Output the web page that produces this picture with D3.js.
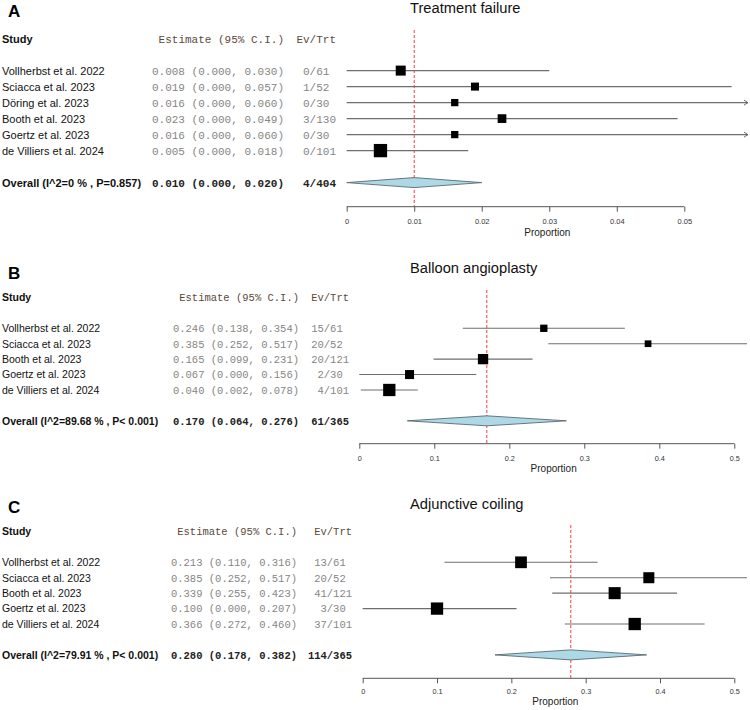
<!DOCTYPE html>
<html><head><meta charset="utf-8">
<script src="https://cdn.jsdelivr.net/npm/d3@7"></script>
<style>body{margin:0;background:#fff} svg{display:block}</style>
</head><body><svg id="c" width="750" height="710"></svg>
<script>
// ---------------- DATA ----------------
const studiesA = ["Vollherbst et al. 2022","Sciacca et al. 2023","Döring et al. 2023","Booth et al. 2023","Goertz et al. 2023","de Villiers et al. 2024"];
const estA = [0.008,0.019,0.016,0.023,0.016,0.005];
const lowA = [0.000,0.000,0.000,0.000,0.000,0.000];
const highA = [0.030,0.057,0.060,0.049,0.060,0.018];
const eventsA = [0,1,0,3,0,0];
const totalsA = [61,52,30,130,30,101];
const weightsA = [19.1,12.2,10.1,14.5,10.1,33.8];

const studiesB = ["Vollherbst et al. 2022","Sciacca et al. 2023","Booth et al. 2023","Goertz et al. 2023","de Villiers et al. 2024"];
const estB = [0.246,0.385,0.165,0.067,0.040];
const lowB = [0.138,0.252,0.099,0.000,0.002];
const highB = [0.354,0.517,0.231,0.156,0.078];
const eventsB = [15,20,20,2,4];
const totalsB = [61,52,121,30,101];
const weightsB = [12.2,10.3,24.3,18.6,34.6];

const studiesC = ["Vollherbst et al. 2022","Sciacca et al. 2023","Booth et al. 2023","Goertz et al. 2023","de Villiers et al. 2024"];
const estC = [0.213,0.385,0.339,0.100,0.366];
const lowC = [0.110,0.252,0.255,0.000,0.272];
const highC = [0.316,0.517,0.423,0.207,0.460];
const eventsC = [13,20,41,3,37];
const totalsC = [61,52,121,30,101];
const weightsC = [19.5,17.2,20.5,21.4,21.4];

const panelLetters = ["A","B","C"];
const panelTitles = ["Treatment failure","Balloon angioplasty","Adjunctive coiling"];
const overallEst = [0.010,0.170,0.280];
const overallLow = [0.000,0.064,0.178];
const overallHigh = [0.020,0.276,0.382];
const overallEvents = [4,61,114];
const overallTotals = [404,365,365];
const overallI2 = ["0","89.68","79.91"];
const overallP = ["P=0.857","P< 0.001","P< 0.001"];

const ticksA = [0,0.01,0.02,0.03,0.04,0.05];
const tickLabelsA = ["0","0.01","0.02","0.03","0.04","0.05"];
const ticksBC = [0,0.1,0.2,0.3,0.4,0.5];
const tickLabelsBC = ["0","0.1","0.2","0.3","0.4","0.5"];
const headerStudy = "Study";
const headerEstimate = "Estimate (95% C.I.)";
const headerEv = "Ev/Trt";
const axisTitle = "Proportion";

// ---------------- LAYOUT ----------------
const panels = [
  {studies:studiesA, est:estA, low:lowA, high:highA, ev:eventsA, n:totalsA, w:weightsA, ticks:ticksA, tickLabels:tickLabelsA,
   letterY:17, titleY:12.5, row0:70.6, rowStep:16, axisY:206.7, refTop:30, font:11, estRight:284, evRight:336,
   px0:346.7, pxT:684.3, tickLabelY:224, propY:236, boxMax:13.3, tickFont:7.5},
  {studies:studiesB, est:estB, low:lowB, high:highB, ev:eventsB, n:totalsB, w:weightsB, ticks:ticksBC, tickLabels:tickLabelsBC,
   letterY:279, titleY:273, row0:328.3, rowStep:15.42, axisY:443.7, refTop:290, font:10.5, estRight:299, evRight:349,
   px0:359.3, pxT:734.3, tickLabelY:460.7, propY:472, boxMax:12.3, tickFont:7.3},
  {studies:studiesC, est:estC, low:lowC, high:highC, ev:eventsC, n:totalsC, w:weightsC, ticks:ticksBC, tickLabels:tickLabelsBC,
   letterY:513, titleY:509, row0:562.3, rowStep:15.43, axisY:678.3, refTop:525, font:10.5, estRight:297, evRight:352,
   px0:362.7, pxT:734.3, tickLabelY:694.3, propY:705, boxMax:12.3, tickFont:7.3}
];

const SANS = "'Liberation Sans', Arial, sans-serif";
const MONO = "'Liberation Mono', 'Courier New', monospace";
const RIGHT_EDGE = 748;
const NB = "\u00A0";
const svg = d3.select("#c");
const f3 = d3.format(".3f");

panels.forEach((p, pi) => {
  const g = svg.append("g");
  const nS = p.studies.length;
  const tMax = p.ticks[p.ticks.length-1];
  const x = d3.scaleLinear().domain([0, tMax]).range([p.px0, p.pxT]);
  const xVisMax = x.invert(RIGHT_EDGE);
  const y = d3.scaleLinear().domain([0, 1]).range([p.row0, p.row0 + p.rowStep]);
  const yHeader = y(-2), yOverall = y(nS + 1);

  const evW = d3.max(p.ev.concat([overallEvents[pi]]), d => String(d).length);
  const nW = d3.max(p.n.concat([overallTotals[pi]]), d => String(d).length);
  const evStr = (e, n) => String(e).padStart(evW, NB) + "/" + String(n).padEnd(nW, NB);
  const estStr = (e, l, h) => f3(e) + NB + "(" + f3(l) + "," + NB + f3(h) + ")";

  // letter and title
  g.append("text").attr("x", 8).attr("y", p.letterY).text(panelLetters[pi])
    .attr("font-family", SANS).attr("font-weight", "bold").attr("font-size", 17).attr("fill", "#000");
  g.append("text").attr("x", 410).attr("y", p.titleY).text(panelTitles[pi])
    .attr("font-family", SANS).attr("font-size", 14.7).attr("fill", "#111");

  // headers
  g.append("text").attr("x", 2).attr("y", yHeader).attr("dy", "0.36em").text(headerStudy)
    .attr("font-family", SANS).attr("font-weight", "bold").attr("font-size", p.font).attr("fill", "#111");
  g.append("text").attr("x", p.estRight).attr("y", yHeader).attr("dy", "0.36em").attr("text-anchor", "end")
    .text(headerEstimate).attr("font-family", MONO).attr("font-size", p.font).attr("fill", "#5c4a3c");
  g.append("text").attr("x", p.evRight).attr("y", yHeader).attr("dy", "0.36em").attr("text-anchor", "end")
    .text(headerEv).attr("font-family", MONO).attr("font-size", p.font).attr("fill", "#5c4a3c");

  // study rows text
  p.studies.forEach((s, i) => {
    g.append("text").attr("x", 2).attr("y", y(i)).attr("dy", "0.36em").text(s)
      .attr("font-family", SANS).attr("font-size", p.font).attr("fill", "#111");
    g.append("text").attr("x", p.estRight).attr("y", y(i)).attr("dy", "0.36em").attr("text-anchor", "end")
      .text(estStr(p.est[i], p.low[i], p.high[i])).attr("font-family", MONO).attr("font-size", p.font).attr("fill", "#858585");
    g.append("text").attr("x", p.evRight).attr("y", y(i)).attr("dy", "0.36em").attr("text-anchor", "end")
      .text(evStr(p.ev[i], p.n[i])).attr("font-family", MONO).attr("font-size", p.font).attr("fill", "#858585");
  });

  // overall row text
  g.append("text").attr("x", 2).attr("y", yOverall).attr("dy", "0.36em")
    .text("Overall (I^2=" + overallI2[pi] + " % , " + overallP[pi] + ")")
    .attr("font-family", SANS).attr("font-weight", "bold").attr("font-size", p.font).attr("fill", "#111");
  g.append("text").attr("x", p.estRight).attr("y", yOverall).attr("dy", "0.36em").attr("text-anchor", "end")
    .text(estStr(overallEst[pi], overallLow[pi], overallHigh[pi]))
    .attr("font-family", MONO).attr("font-weight", "bold").attr("font-size", p.font).attr("fill", "#222");
  g.append("text").attr("x", p.evRight).attr("y", yOverall).attr("dy", "0.36em").attr("text-anchor", "end")
    .text(evStr(overallEvents[pi], overallTotals[pi]))
    .attr("font-family", MONO).attr("font-weight", "bold").attr("font-size", p.font).attr("fill", "#222");

  // CI lines
  const size = d3.scaleSqrt().domain([0, d3.max(p.w)]).range([0, p.boxMax]);
  p.studies.forEach((s, i) => {
    const lo = Math.max(p.low[i], 0);
    const over = p.high[i] > xVisMax;
    const xe = over ? x(xVisMax) : x(p.high[i]);
    g.append("line").attr("x1", x(lo)).attr("x2", xe).attr("y1", y(i)).attr("y2", y(i))
      .attr("stroke", "#6e6e6e").attr("stroke-width", 1.1);
    if (over) {
      g.append("path").attr("d", `M${xe-4},${y(i)-2.5}L${xe},${y(i)}L${xe-4},${y(i)+2.5}`)
        .attr("fill", "none").attr("stroke", "#6e6e6e").attr("stroke-width", 1);
    }
  });

  // reference line
  g.append("line").attr("x1", x(overallEst[pi])).attr("x2", x(overallEst[pi]))
    .attr("y1", p.refTop).attr("y2", p.axisY)
    .attr("stroke", "#ff3b3b").attr("stroke-width", 1).attr("stroke-dasharray", "3,2");

  // boxes
  p.studies.forEach((s, i) => {
    const sz = size(p.w[i]);
    g.append("rect").attr("x", x(p.est[i]) - sz/2).attr("y", y(i) - sz/2)
      .attr("width", sz).attr("height", sz).attr("fill", "#000");
  });

  // diamond
  const dh = 5;
  const yo = yOverall;
  g.append("path")
    .attr("d", `M${x(overallLow[pi])},${yo}L${x(overallEst[pi])},${yo-dh}L${x(overallHigh[pi])},${yo}L${x(overallEst[pi])},${yo+dh}Z`)
    .attr("fill", "#add8e6").attr("stroke", "#5a6a70").attr("stroke-width", 0.9);

  // axis
  const tickSize = 5;
  const axis = d3.axisBottom(x).tickValues(p.ticks).tickFormat((d, i) => p.tickLabels[i])
    .tickSize(tickSize).tickPadding(p.tickLabelY - p.axisY - tickSize - 0.71 * p.tickFont);
  const ag = g.append("g").attr("transform", `translate(0,${p.axisY})`).call(axis);
  ag.select(".domain").remove();
  ag.selectAll(".tick line").attr("stroke", "#555");
  ag.selectAll(".tick text").attr("font-family", SANS).attr("font-size", p.tickFont).attr("fill", "#333");
  ag.append("line").attr("x1", x(p.ticks[0])).attr("x2", x(tMax)).attr("y1", 0).attr("y2", 0)
    .attr("stroke", "#555").attr("stroke-width", 1);

  g.append("text").attr("x", (p.px0 + RIGHT_EDGE) / 2).attr("y", p.propY).attr("text-anchor", "middle")
    .text(axisTitle).attr("font-family", SANS).attr("font-size", 10).attr("fill", "#222");
});
</script>
</body></html>
